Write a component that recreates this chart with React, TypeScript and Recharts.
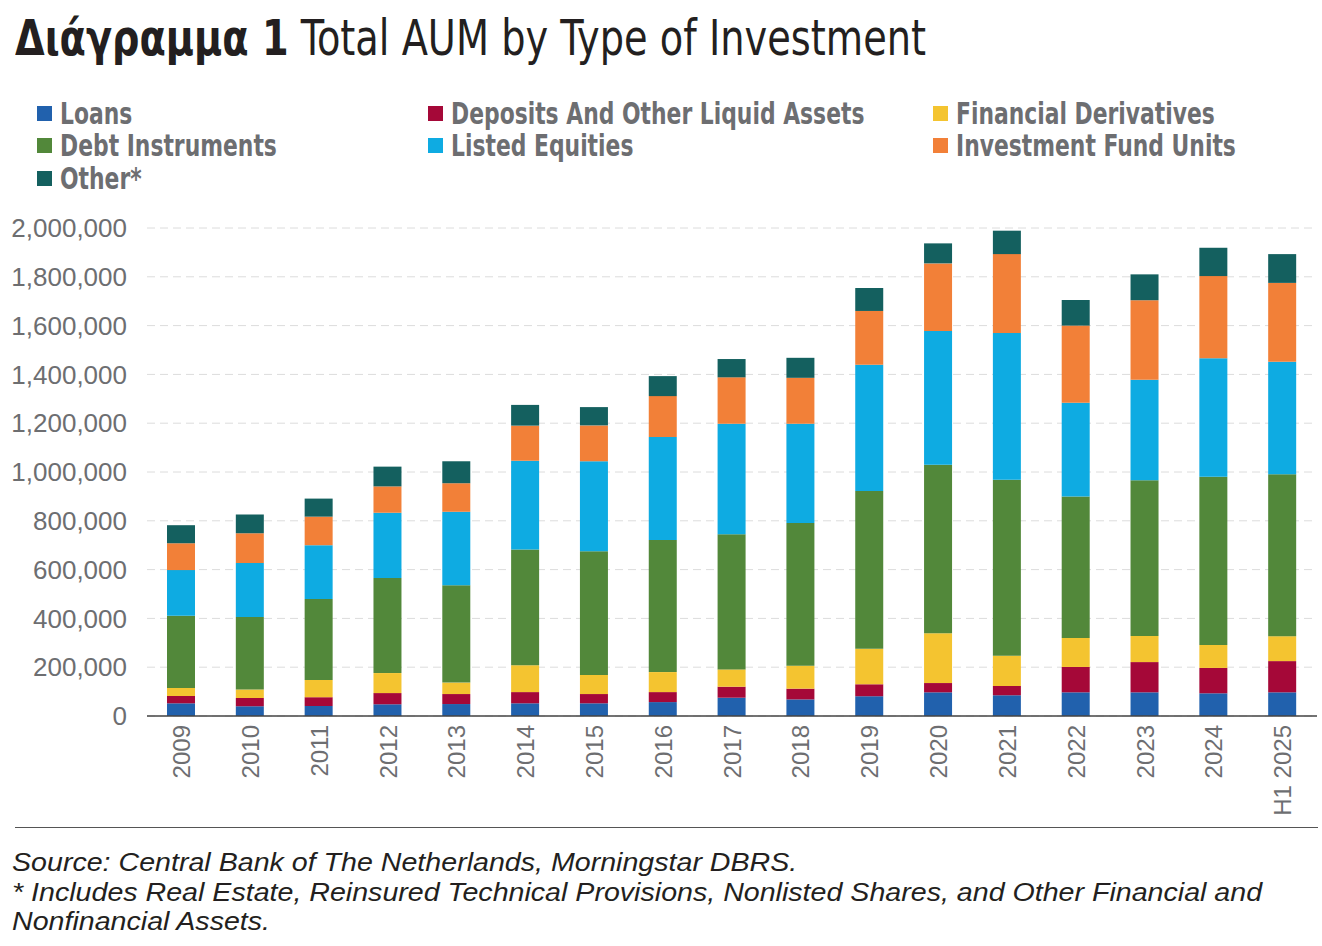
import { BarChart, Bar, XAxis, YAxis, CartesianGrid } from "recharts";

const years = ["2009", "2010", "2011", "2012", "2013", "2014", "2015", "2016", "2017", "2018", "2019", "2020", "2021", "2022", "2023", "2024", "H1 2025"];

const loans = [52000, 40000, 41000, 48000, 49000, 52000, 52000, 57000, 75000, 68000, 81000, 97000, 85000, 97000, 97000, 93000, 97000];
const deposits = [30000, 34000, 36000, 46000, 41000, 46000, 38000, 41000, 45000, 44000, 49000, 38000, 38000, 104000, 124000, 104000, 128000];
const derivatives = [33000, 35000, 71000, 82000, 47000, 110000, 78000, 82000, 71000, 94000, 146000, 204000, 124000, 119000, 107000, 94000, 102000];
const debt = [296000, 297000, 332000, 390000, 399000, 474000, 507000, 541000, 554000, 585000, 646000, 691000, 721000, 580000, 638000, 690000, 664000];
const equities = [187000, 221000, 220000, 267000, 301000, 364000, 369000, 422000, 453000, 407000, 518000, 548000, 602000, 384000, 412000, 485000, 461000];
const fundUnits = [110000, 122000, 117000, 108000, 117000, 144000, 147000, 168000, 190000, 188000, 220000, 277000, 323000, 316000, 326000, 337000, 323000];
const other = [74000, 77000, 74000, 81000, 90000, 85000, 75000, 82000, 75000, 82000, 94000, 82000, 96000, 105000, 106000, 116000, 118000];

const yTicks = [0, 200000, 400000, 600000, 800000, 1000000, 1200000, 1400000, 1600000, 1800000, 2000000];

const series = [
  { key: "loans", name: "Loans", color: "#2161ad", values: loans },
  { key: "deposits", name: "Deposits And Other Liquid Assets", color: "#a50838", values: deposits },
  { key: "derivatives", name: "Financial Derivatives", color: "#f4c430", values: derivatives },
  { key: "debt", name: "Debt Instruments", color: "#52883a", values: debt },
  { key: "equities", name: "Listed Equities", color: "#0eabe2", values: equities },
  { key: "fundUnits", name: "Investment Fund Units", color: "#f28038", values: fundUnits },
  { key: "other", name: "Other*", color: "#14605f", values: other },
];

const data = years.map((year, i) => {
  const row: { [k: string]: string | number } = { year };
  series.forEach((s) => { row[s.key] = s.values[i]; });
  return row;
});

const gray = "#6d6e71";
// no narrow Liberation here, so the condensed DejaVu is squeezed a bit more
const narrow = '"DejaVu Sans Condensed", "Liberation Sans", sans-serif';
const sans = '"Liberation Sans", Arial, sans-serif';

const legendCols = [37, 428, 933];
const legendRows = [113, 145, 178];

const YearTick = ({ x, y, payload }: any) => (
  <g transform={`translate(${x},${y})`}>
    <text transform="rotate(-90)" textAnchor="end" dy="0.36em" fill={gray} fontSize={24} fontFamily={sans}>
      {payload.value}
    </text>
  </g>
);

export default function App() {
  return (
    <div style={{ position: "absolute", left: 0, top: 0, width: 1322, height: 946, background: "#fff", overflow: "hidden" }}>
      <div style={{
        position: "absolute", left: 15, top: 8, fontFamily: narrow, fontSize: 50, color: "#231f20",
        whiteSpace: "nowrap", lineHeight: "60px", transform: "scaleX(0.852)", transformOrigin: "0 0",
      }}>
        <span style={{ fontWeight: 700 }}>Διάγραμμα 1</span> Total AUM by Type of Investment
      </div>

      {series.map((s, i) => (
        <div key={s.key} style={{
          position: "absolute", left: legendCols[i % 3], top: legendRows[Math.floor(i / 3)] - 17,
          height: 34, display: "flex", alignItems: "center", whiteSpace: "nowrap",
        }}>
          <span style={{ width: 15, height: 15, background: s.color, display: "inline-block", marginRight: 8 }} />
          <span style={{
            fontFamily: narrow, fontWeight: 700, fontSize: 30, color: gray,
            display: "inline-block", transform: "scaleX(0.81)", transformOrigin: "0 50%",
          }}>{s.name}</span>
        </div>
      ))}

      <div style={{ position: "absolute", left: 0, top: 0 }}>
        <BarChart width={1322} height={840} data={data} margin={{ top: 228, right: 5, bottom: 24, left: 0 }}>
          <CartesianGrid vertical={false} stroke="#dcdcdc" strokeDasharray="8 5" />
          <XAxis dataKey="year" interval={0} height={100} tickSize={0} tickMargin={9} tick={<YearTick />}
            axisLine={{ stroke: "#444", strokeWidth: 1.5 }} tickLine={false} />
          <YAxis domain={[0, 2000000]} ticks={yTicks} width={147} tickSize={0} tickMargin={20}
            axisLine={false} tickLine={false} interval={0}
            tick={{ fill: gray, fontSize: 26, fontFamily: sans }}
            tickFormatter={(v: number) => v.toLocaleString("en-US")} />
          {series.map((s) => (
            <Bar key={s.key} dataKey={s.key} name={s.name} stackId="aum" fill={s.color} barSize={28} isAnimationActive={false} />
          ))}
        </BarChart>
      </div>

      <div style={{ position: "absolute", left: 15, top: 827, width: 1303, height: 0, borderTop: "1.5px solid #555" }} />

      <div style={{
        position: "absolute", left: 12, top: 848, fontFamily: sans, fontStyle: "italic", fontSize: 26, color: "#231f20",
        lineHeight: "29.5px", whiteSpace: "nowrap", transform: "scaleX(1.1)", transformOrigin: "0 0",
      }}>
        <div>Source: Central Bank of The Netherlands, Morningstar DBRS.</div>
        <div>* Includes Real Estate, Reinsured Technical Provisions, Nonlisted Shares, and Other Financial and</div>
        <div>Nonfinancial Assets.</div>
      </div>
    </div>
  );
}
